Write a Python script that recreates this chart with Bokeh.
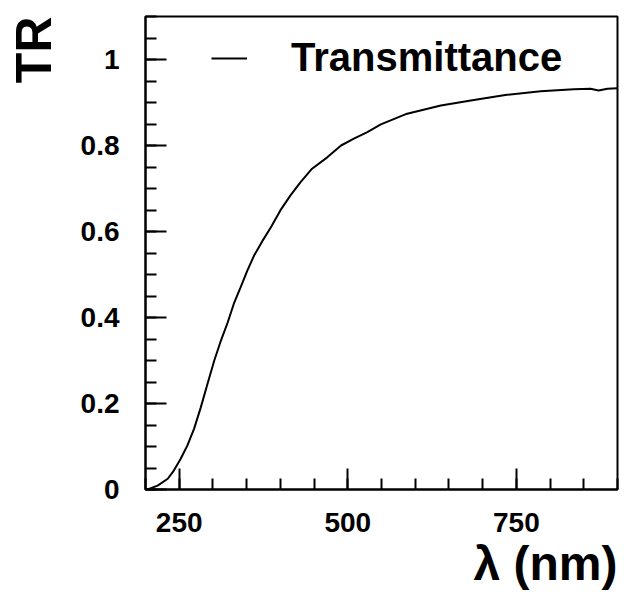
import numpy as np
from bokeh.plotting import figure
from bokeh.models import FixedTicker, Legend, LegendItem, Range1d, Title
from bokeh.embed import file_html
from bokeh.resources import INLINE

# ---- data ----
wavelength = [200, 203, 218, 233, 242, 252, 262, 272, 282, 292, 302, 312, 322, 331,
              341, 351, 361, 373, 386, 400, 415, 430, 447, 470, 490, 509, 529, 549,
              588, 638, 687, 736, 786, 835, 860, 872, 885, 900]
transmittance = [0.0, 0.0, 0.009, 0.025, 0.044, 0.071, 0.102, 0.141, 0.191, 0.246, 0.300,
                 0.347, 0.389, 0.432, 0.470, 0.509, 0.544, 0.577, 0.610, 0.649, 0.684,
                 0.715, 0.746, 0.773, 0.800, 0.816, 0.831, 0.849, 0.874, 0.893, 0.906,
                 0.918, 0.926, 0.931, 0.932, 0.928, 0.932, 0.933]

x_ticks = [250, 500, 750]
y_ticks = [0, 0.2, 0.4, 0.6, 0.8, 1]
y_tick_labels = ["0", "0.2", "0.4", "0.6", "0.8", "1"]
series_name = "Transmittance"
x_title = "λ (nm)"
y_title = "TR"

FONT = "Liberation Sans"

p = figure(width=624, height=598, output_backend="svg", toolbar_location=None,
           x_range=Range1d(200, 900), y_range=Range1d(0, 1.1),
           min_border_left=145, min_border_top=16, min_border_right=7, min_border_bottom=109)
p.background_fill_color = "white"
p.border_fill_color = "white"
p.xgrid.visible = False
p.ygrid.visible = False
p.outline_line_color = "black"
p.outline_line_width = 2

r = p.line(wavelength, transmittance, line_color="black", line_width=2)

p.xaxis.ticker = FixedTicker(ticks=x_ticks, minor_ticks=list(np.arange(200, 901, 50)))
p.yaxis.ticker = FixedTicker(ticks=y_ticks, minor_ticks=list(np.round(np.arange(0, 1.101, 0.05), 2)))
p.yaxis.major_label_overrides = dict(zip(y_ticks, y_tick_labels))

for ax in (p.xaxis[0], p.yaxis[0]):
    ax.axis_line_width = 2
    ax.axis_line_color = "black"
    ax.major_tick_in = 21
    ax.major_tick_out = 0
    ax.minor_tick_in = 11
    ax.minor_tick_out = 0
    ax.major_tick_line_width = 2
    ax.minor_tick_line_width = 2
    ax.major_label_text_font = FONT
    ax.major_label_text_font_style = "bold"
    ax.major_label_text_font_size = "28px"
    ax.major_label_text_color = "black"
p.yaxis.major_label_standoff = 26
p.xaxis.major_label_standoff = 23

# invisible spacer label to push the "TR" title outward
p.yaxis.axis_label = " "
p.yaxis.axis_label_text_font_size = "1px"
p.yaxis.axis_label_standoff = 12

legend = Legend(items=[LegendItem(label=series_name, renderers=[r])],
                location=(66, 409), orientation="vertical",
                border_line_color=None, background_fill_alpha=0,
                padding=0, margin=0, glyph_width=36, glyph_height=20,
                label_standoff=44, label_text_font=FONT, label_text_font_style="bold",
                label_text_font_size="40px", label_text_color="black", spacing=0)
p.add_layout(legend, "center")

p.add_layout(Title(text=y_title, align="right", text_font=FONT,
                   text_font_style="bold", text_font_size="50px", text_color="black",
                   standoff=0, offset=0), "left")
p.add_layout(Title(text=x_title, align="right", text_font=FONT, text_font_style="bold",
                   text_font_size="48px", text_color="black", standoff=0, offset=0), "below")

open("out.html", "w").write(file_html(p, INLINE))
